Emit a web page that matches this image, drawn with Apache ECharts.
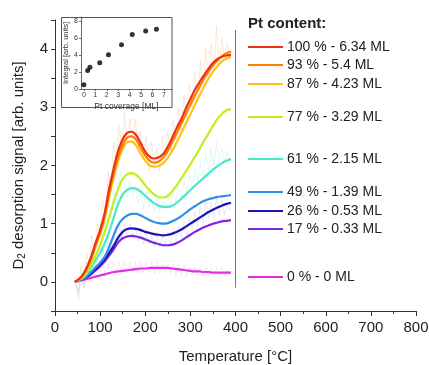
<!DOCTYPE html>
<html>
<head>
<meta charset="utf-8">
<script src="https://cdn.jsdelivr.net/npm/echarts@6/dist/echarts.min.js"></script>
<style>
  html, body { margin: 0; padding: 0; background: #fff; }
  #chart { width: 429px; height: 365px; }
</style>
</head>
<body>
<div id="chart"></div>
<script>
const temps = [44, 50, 60, 70, 80, 90, 100, 110, 120, 130, 140, 150, 160, 170, 180, 190, 200, 210,
  220, 230, 240, 250, 260, 270, 280, 290, 300, 310, 320, 330, 340, 350, 360, 370, 380, 390]

// smoothed TPD curves
const pt100 = [0, 0.03, 0.1, 0.24, 0.43, 0.67, 0.89, 1.18, 1.6, 1.95, 2.25, 2.45, 2.56, 2.58, 2.52, 2.38, 2.24, 2.15,
  2.12, 2.14, 2.2, 2.32, 2.48, 2.65, 2.8, 2.98, 3.14, 3.3, 3.43, 3.55, 3.66, 3.76, 3.83, 3.87, 3.89, 3.9]
const pt93 = [0, 0.03, 0.1, 0.22, 0.4, 0.63, 0.85, 1.13, 1.52, 1.86, 2.15, 2.36, 2.48, 2.5, 2.44, 2.3, 2.17, 2.08,
  2.05, 2.07, 2.14, 2.25, 2.4, 2.56, 2.72, 2.88, 3.04, 3.2, 3.35, 3.49, 3.61, 3.72, 3.81, 3.88, 3.93, 3.96]
const pt87 = [0, 0.03, 0.09, 0.21, 0.38, 0.6, 0.82, 1.08, 1.45, 1.8, 2.08, 2.29, 2.4, 2.41, 2.34, 2.2, 2.08, 2.0,
  1.98, 1.99, 2.04, 2.13, 2.26, 2.4, 2.56, 2.72, 2.88, 3.04, 3.2, 3.35, 3.49, 3.61, 3.71, 3.79, 3.84, 3.87]
const pt77 = [0, 0.02, 0.07, 0.16, 0.29, 0.45, 0.63, 0.86, 1.1, 1.37, 1.6, 1.77, 1.85, 1.87, 1.84, 1.76, 1.66, 1.57,
  1.5, 1.46, 1.45, 1.48, 1.56, 1.66, 1.78, 1.9, 2.02, 2.15, 2.28, 2.42, 2.55, 2.68, 2.8, 2.89, 2.95, 2.97]
const pt61 = [0, 0.02, 0.06, 0.13, 0.24, 0.37, 0.5, 0.66, 0.86, 1.1, 1.34, 1.5, 1.58, 1.61, 1.6, 1.55, 1.48, 1.41,
  1.35, 1.31, 1.29, 1.29, 1.31, 1.36, 1.43, 1.5, 1.58, 1.65, 1.72, 1.79, 1.86, 1.93, 1.99, 2.04, 2.08, 2.11]
const pt49 = [0, 0.02, 0.05, 0.1, 0.17, 0.25, 0.33, 0.43, 0.6, 0.8, 0.98, 1.08, 1.14, 1.17, 1.17, 1.14, 1.1, 1.06,
  1.03, 1.01, 1.0, 1.01, 1.04, 1.08, 1.13, 1.19, 1.25, 1.3, 1.35, 1.39, 1.42, 1.44, 1.46, 1.47, 1.48, 1.49]
const pt26 = [0, 0.02, 0.05, 0.09, 0.15, 0.22, 0.3, 0.39, 0.5, 0.62, 0.76, 0.86, 0.91, 0.92, 0.91, 0.89, 0.86, 0.84,
  0.82, 0.81, 0.8, 0.81, 0.83, 0.86, 0.9, 0.95, 1.0, 1.05, 1.1, 1.15, 1.2, 1.24, 1.28, 1.31, 1.34, 1.36]
const pt17 = [0, 0.02, 0.04, 0.08, 0.13, 0.2, 0.27, 0.35, 0.45, 0.56, 0.68, 0.75, 0.78, 0.79, 0.78, 0.76, 0.73, 0.7,
  0.67, 0.65, 0.63, 0.63, 0.64, 0.67, 0.71, 0.76, 0.81, 0.86, 0.9, 0.94, 0.97, 1.0, 1.02, 1.04, 1.05, 1.06]
const pt0 = [0, 0.01, 0.03, 0.05, 0.07, 0.09, 0.11, 0.13, 0.15, 0.17, 0.18, 0.19, 0.2, 0.21, 0.22, 0.23, 0.23, 0.24,
  0.24, 0.24, 0.24, 0.24, 0.23, 0.22, 0.21, 0.2, 0.19, 0.18, 0.18, 0.17, 0.17, 0.16, 0.16, 0.16, 0.16, 0.16]

// raw (noisy) traces, faint in the background
const rawTemps = [45, 52, 58, 64, 70, 76, 82, 88, 94, 100, 106, 112, 118, 124, 130, 136, 142, 148, 154, 160, 166, 172,
  178, 184, 190, 196, 202, 208, 214, 220, 226, 232, 238, 244, 250, 256, 262, 268, 274, 280, 286, 292, 298, 304,
  310, 316, 322, 328, 334, 340, 346, 352, 358, 364, 370, 376, 382, 388]
const rawHigh = [0, -0.2, 0.3, 0.1, 0.5, 0.3, 0.8, 0.5, 1.0, 0.8, 1.4, 1.1, 1.9, 1.6, 2.4, 2.0, 2.7, 2.3, 2.9, 2.4, 2.8,
  2.4, 2.8, 2.3, 2.6, 2.1, 2.5, 1.9, 2.4, 2.0, 2.3, 1.9, 2.5, 2.1, 2.6, 2.2, 2.8, 2.4, 3.0, 2.6, 3.2, 2.8, 3.4, 3.0,
  3.6, 3.1, 3.8, 3.3, 4.0, 3.5, 4.1, 3.6, 4.4, 3.7, 4.2, 3.8, 4.1, 3.8]
const rawMid = [0, -0.15, 0.25, 0.05, 0.35, 0.15, 0.55, 0.35, 0.75, 0.55, 1.0, 0.8, 1.3, 1.1, 1.6, 1.35, 1.8, 1.5, 1.8,
  1.45, 1.75, 1.45, 1.65, 1.35, 1.55, 1.25, 1.55, 1.25, 1.45, 1.2, 1.45, 1.2, 1.4, 1.25, 1.5, 1.25, 1.55, 1.35, 1.65,
  1.4, 1.75, 1.5, 1.85, 1.6, 1.95, 1.7, 2.05, 1.8, 2.2, 1.9, 2.3, 2.0, 2.4, 2.05, 2.3, 2.05, 2.25, 2.1]
const rawLow = [0, -0.3, 0.15, -0.1, 0.25, 0.05, 0.35, 0.15, 0.45, 0.25, 0.55, 0.35, 0.75, 0.5, 0.85, 0.65, 1.0, 0.75,
  1.0, 0.75, 1.0, 0.75, 0.95, 0.7, 0.9, 0.65, 0.85, 0.65, 0.8, 0.6, 0.85, 0.6, 0.8, 0.6, 0.85, 0.65, 0.9, 0.7, 0.95,
  0.75, 1.05, 0.8, 1.1, 0.9, 1.2, 0.95, 1.3, 1.0, 1.4, 1.1, 1.35, 1.1, 1.45, 1.15, 1.4, 1.15, 1.35, 1.2]
const rawZero = [0, -0.2, 0.1, -0.1, 0.15, 0.0, 0.2, 0.05, 0.25, 0.1, 0.3, 0.1, 0.3, 0.15, 0.35, 0.15, 0.35, 0.15, 0.35,
  0.15, 0.35, 0.15, 0.35, 0.15, 0.35, 0.15, 0.35, 0.15, 0.35, 0.15, 0.35, 0.15, 0.3, 0.15, 0.3, 0.15, 0.3, 0.1, 0.3,
  0.1, 0.3, 0.1, 0.25, 0.1, 0.25, 0.1, 0.25, 0.1, 0.25, 0.1, 0.25, 0.1, 0.25, 0.1, 0.25, 0.1, 0.2, 0.1]
const rawColors = ['#f9c8a0', '#b8f0e4', '#d0c4f2', '#f2c4f2']

const seriesNames = ['0 % - 0 ML', '17 % - 0.33 ML', '26 % - 0.53 ML', '49 % - 1.39 ML', '61 % - 2.15 ML',
  '77 % - 3.29 ML', '87 % - 4.23 ML', '93 % - 5.4 ML', '100 % - 6.34 ML']
const seriesValues = [pt0, pt17, pt26, pt49, pt61, pt77, pt87, pt93, pt100]
const seriesColors = ['#e030e0', '#7a28e0', '#1a14b0', '#2a90e8', '#48e8c8', '#c0f020', '#ffc21a', '#ff8000', '#f03010']
// legend rows: y position of the centre of each entry
const legendTops = [275, 227, 209, 190, 157, 115, 82, 63, 45]

// inset: integral vs Pt coverage
const coverage = [0, 0.33, 0.53, 1.39, 2.15, 3.29, 4.23, 5.4, 6.34]
const integral = [0.5, 2.18, 2.57, 3.09, 4.04, 5.23, 6.42, 6.85, 7.05]

const font = 'Liberation Sans, Arial, sans-serif'
const textColor = '#222'

const chart = echarts.init(document.getElementById('chart'), null, { renderer: 'canvas' })

const lineIcon = 'path://M0,0 L40,0 L40,2.2 L0,2.2 Z'

const legends = seriesNames.map((name, i) => ({
  data: [name],
  left: 243,
  top: legendTops[i] - 10,
  icon: lineIcon,
  itemWidth: 35,
  itemHeight: 14,
  selectedMode: false,
  textStyle: { fontFamily: font, fontSize: 14, color: textColor, padding: [0, 0, 0, -1] }
}))

const series = []

;[rawHigh, rawMid, rawLow, rawZero].forEach((vals, i) => {
  series.push({
    type: 'line',
    data: rawTemps.map((t, j) => [t, vals[j]]),
    showSymbol: false,
    lineStyle: { width: 0.8, color: rawColors[i], opacity: 0.5 },
    silent: true,
    z: 1
  })
})

seriesNames.forEach((name, i) => {
  series.push({
    name: name,
    type: 'line',
    data: temps.map((t, j) => [t, seriesValues[i][j]]),
    showSymbol: false,
    smooth: 0.3,
    lineStyle: { width: 2.2, color: seriesColors[i] },
    itemStyle: { color: seriesColors[i] },
    silent: true,
    z: 3 + i
  })
})

// grey separator line at 400 °C
series.push({
  type: 'line',
  data: [[400, 4.33], [400, -0.1]],
  showSymbol: false,
  lineStyle: { width: 1, color: '#777' },
  silent: true,
  z: 2
})

series.push({
  type: 'scatter',
  xAxisIndex: 1,
  yAxisIndex: 1,
  data: coverage.map((c, i) => [c, integral[i]]),
  symbolSize: 5,
  itemStyle: { color: '#000' },
  silent: true
})

const option = {
  animation: false,
  backgroundColor: '#fff',
  title: {
    text: 'Pt content:',
    left: 243,
    top: 11,
    textStyle: { fontFamily: font, fontSize: 15, fontWeight: 'bold', color: textColor }
  },
  legend: legends,
  grid: [
    { left: 55, right: 13, top: 20, bottom: 54, outerBoundsMode: 'none' },
    { left: 81, top: 17, width: 91, height: 72, outerBoundsMode: 'none' }
  ],
  xAxis: [
    {
      type: 'value',
      min: 0,
      max: 800,
      interval: 100,
      name: 'Temperature [°C]',
      nameLocation: 'middle',
      nameGap: 38,
      nameTextStyle: { fontFamily: font, fontSize: 15, color: textColor },
      axisLine: { onZero: false, lineStyle: { color: '#333', width: 1 } },
      axisTick: { inside: false, length: 5, lineStyle: { color: '#333' } },
      minorTick: { show: true, splitNumber: 2, length: 3, lineStyle: { color: '#333' } },
      axisLabel: { fontFamily: font, fontSize: 15, color: textColor, margin: 9 },
      splitLine: { show: false }
    },
    {
      type: 'value',
      gridIndex: 1,
      min: -0.25,
      max: 7.7,
      name: 'Pt coverage [ML]',
      nameLocation: 'middle',
      nameGap: 13,
      nameTextStyle: { fontFamily: font, fontSize: 8.5, color: '#333' },
      axisLine: { onZero: false, lineStyle: { color: '#444', width: 0.8 } },
      axisTick: { length: 2, customValues: [0, 1, 2, 3, 4, 5, 6, 7], lineStyle: { color: '#444', width: 0.8 } },
      axisLabel: { customValues: [0, 1, 2, 3, 4, 5, 6, 7], fontFamily: font, fontSize: 7, color: '#333', margin: 3 },
      splitLine: { show: false }
    }
  ],
  yAxis: [
    {
      type: 'value',
      min: -0.5,
      max: 4.5,
      interval: 0.5,
      name: 'D{sub|2} desorption signal [arb. units]',
      nameLocation: 'middle',
      nameGap: 28,
      nameTextStyle: {
        fontFamily: font, fontSize: 15, color: textColor,
        rich: { sub: { fontFamily: font, fontSize: 10, color: textColor, verticalAlign: 'bottom', padding: [6, 0, 0, 0] } }
      },
      axisLine: { show: true, onZero: false, lineStyle: { color: '#333', width: 1 } },
      axisTick: { show: true, length: 4, lineStyle: { color: '#333' } },
      axisLabel: {
        fontFamily: font, fontSize: 15, color: textColor, margin: 7,
        formatter: v => (Number.isInteger(v) ? String(v) : '')
      },
      splitLine: { show: false }
    },
    {
      type: 'value',
      gridIndex: 1,
      min: 0,
      max: 8.5,
      name: 'Integral [arb. units]',
      nameLocation: 'middle',
      nameGap: 10,
      nameTextStyle: { fontFamily: font, fontSize: 7.5, color: '#333' },
      axisLine: { show: true, onZero: false, lineStyle: { color: '#444', width: 0.8 } },
      axisTick: { show: true, length: 2, customValues: [0, 2, 4, 6, 8], lineStyle: { color: '#444', width: 0.8 } },
      axisLabel: { customValues: [0, 2, 4, 6, 8], fontFamily: font, fontSize: 7, color: '#333', margin: 3 },
      splitLine: { show: false }
    }
  ],
  graphic: [
    {
      type: 'rect',
      shape: { x: 61.5, y: 17.5, width: 110.5, height: 90 },
      style: { fill: '#fff', stroke: '#555', lineWidth: 1 },
      silent: true,
      z: -1
    }
  ],
  series: series
}

chart.setOption(option)
</script>
</body>
</html>
